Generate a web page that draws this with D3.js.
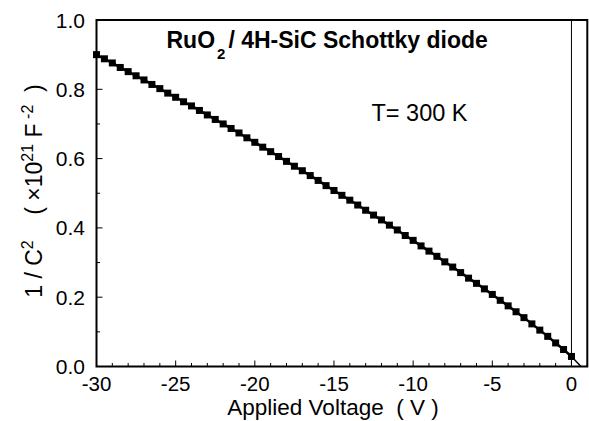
<!DOCTYPE html>
<html><head><meta charset="utf-8">
<script src="https://cdn.jsdelivr.net/npm/d3@7"></script>
<style>
html,body{margin:0;padding:0;background:#fff;}
svg{display:block;font-family:"Liberation Sans",Arial,sans-serif;}
</style></head>
<body>
<svg id="chart" width="589" height="421"></svg>
<script>
const voltage = [-30,-29.5,-29,-28.5,-28,-27.5,-27,-26.5,-26,-25.5,-25,-24.5,-24,-23.5,-23,-22.5,-22,-21.5,-21,-20.5,-20,-19.5,-19,-18.5,-18,-17.5,-17,-16.5,-16,-15.5,-15,-14.5,-14,-13.5,-13,-12.5,-12,-11.5,-11,-10.5,-10,-9.5,-9,-8.5,-8,-7.5,-7,-6.5,-6,-5.5,-5,-4.5,-4,-3.5,-3,-2.5,-2,-1.5,-1,-0.5,0];
const invC2 = [0.900,0.888,0.876,0.863,0.851,0.839,0.827,0.814,0.802,0.789,0.777,0.764,0.752,0.739,0.726,0.713,0.700,0.687,0.674,0.660,0.647,0.633,0.620,0.606,0.592,0.578,0.565,0.551,0.537,0.522,0.508,0.494,0.480,0.466,0.451,0.437,0.423,0.408,0.394,0.378,0.364,0.348,0.333,0.318,0.302,0.287,0.271,0.255,0.240,0.224,0.208,0.191,0.175,0.158,0.141,0.123,0.105,0.087,0.068,0.049,0.029];
const fitV = [0, 0.6];
const fitY = [0.029, 0];
const xTicks = [-30,-25,-20,-15,-10,-5,0];
const yTicks = [0.0,0.2,0.4,0.6,0.8,1.0];

const svg = d3.select("#chart");
const L=96.5, R=587.3, T=20, B=366.5;
const x = d3.scaleLinear().domain([-30,1]).range([L,R]);
const y = d3.scaleLinear().domain([0,1]).range([B,T]);

const xMinor = d3.range(-30,1.001,1);
const yMinor = d3.range(0,1.0001,0.1);
const g = svg.append("g");
g.selectAll(".xm").data(xMinor).join("line")
  .attr("x1",d=>x(d)).attr("x2",d=>x(d)).attr("y1",B).attr("y2",d=>B-(xTicks.includes(d)?6:3.5))
  .attr("stroke","#000").attr("stroke-width",1);
g.selectAll(".ym").data(yMinor).join("line")
  .attr("y1",d=>y(d)).attr("y2",d=>y(d)).attr("x1",L).attr("x2",d=>L+(Math.abs(d*5-Math.round(d*5))<1e-6?6:3.5))
  .attr("stroke","#000").attr("stroke-width",1);

g.selectAll(".xl").data(xTicks).join("text")
  .attr("x",d=>x(d)).attr("y",391).attr("text-anchor","middle")
  .attr("font-size",20.5).text(d=>d===0?"0":String(d));
g.selectAll(".yl").data(yTicks).join("text")
  .attr("x",85).attr("y",d=>y(d)+7.5).attr("text-anchor","end")
  .attr("font-size",21).text(d=>d.toFixed(1));

svg.append("line").attr("x1",x(0)).attr("x2",x(0)).attr("y1",T).attr("y2",B)
  .attr("stroke","#000").attr("stroke-width",1);

const pts = voltage.map((v,i)=>[v,invC2[i]]);
const line = d3.line().x(d=>x(d[0])).y(d=>y(d[1]));
svg.append("path").datum(pts).attr("d",line).attr("fill","none").attr("stroke","#000").attr("stroke-width",2.5);
svg.append("path").datum(fitV.map((v,i)=>[v,fitY[i]])).attr("d",line).attr("fill","none").attr("stroke","#000").attr("stroke-width",1.5);
svg.selectAll(".mk").data(pts).join("rect")
  .attr("x",d=>x(d[0])-3.5).attr("y",d=>y(d[1])-3.5).attr("width",7).attr("height",7).attr("fill","#000");

svg.append("rect").attr("x",L).attr("y",T).attr("width",R-L).attr("height",B-T)
  .attr("fill","none").attr("stroke","#000").attr("stroke-width",2);

const t = svg.append("text").attr("x",166.5).attr("y",48).attr("font-size",23).attr("font-weight","bold");
t.append("tspan").text("RuO");
t.append("tspan").attr("font-size",15).attr("dy",11).attr("dx",2).text("2");
t.append("tspan").attr("dy",-11).attr("dx",3).text("/ 4H-SiC Schottky diode");

svg.append("text").attr("x",371.5).attr("y",121).attr("font-size",23.5).text("T= 300 K");

svg.append("text").attr("x",333).attr("y",415).attr("text-anchor","middle").attr("font-size",22.5)
  .attr("xml:space","preserve").text("Applied Voltage  ( V )");

const yt = svg.append("text").attr("transform","translate(42,191) rotate(-90)")
  .attr("text-anchor","middle").attr("font-size",23).attr("xml:space","preserve");
yt.append("tspan").text("1 / C");
yt.append("tspan").attr("font-size",16).attr("dy",-9).text("2");
yt.append("tspan").attr("dy",9).text("    ( ×10");
yt.append("tspan").attr("font-size",16).attr("dy",-9).text("21");
yt.append("tspan").attr("dy",9).text(" F");
yt.append("tspan").attr("font-size",16).attr("dy",-9).text(" -2");
yt.append("tspan").attr("dy",9).text("  )");
</script>
</body></html>
